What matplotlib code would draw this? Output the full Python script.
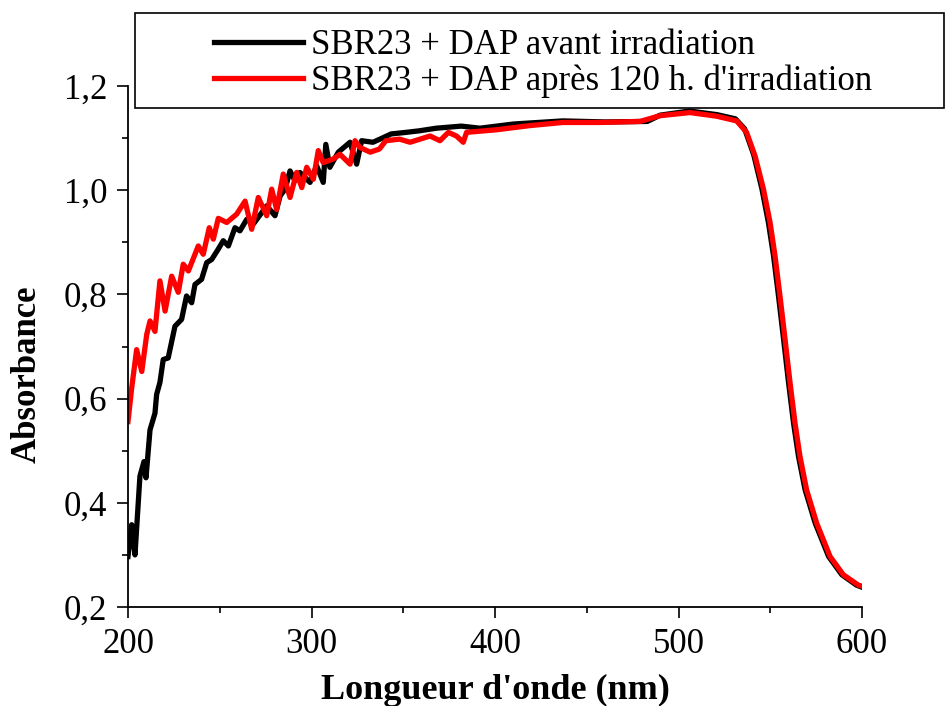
import matplotlib
matplotlib.use('Agg')
import matplotlib.pyplot as plt
from matplotlib.patches import Rectangle
from matplotlib.ticker import MultipleLocator, FuncFormatter

# Spectres UV-visible (longueur d'onde en nm, absorbance)
wl_avant = [200, 202, 203.8, 206.5, 208.7, 209.8, 212, 214.7, 215.6, 217.4, 219.2, 221.9,
            225.6, 229.2, 231.9, 234.7, 236.5, 240.1, 242.9, 245.6, 249.2, 251.9, 254.7,
            258.3, 261, 264.7, 268.3, 272.9, 275.6, 280.1, 282.9, 285.6, 288.3, 291,
            293.7, 299.2, 302.8, 306.4, 307.8, 310, 314.6, 321, 324.6, 327.3, 333.5,
            337.3, 343.4, 351.5, 358.8, 368, 381.6, 391.8, 410, 437, 460, 483, 490,
            506, 521, 531, 536, 541, 545.5, 549, 551.8, 554.5, 557.3, 560, 562.7,
            565.4, 569, 574.5, 581.8, 589, 597, 600]
abs_avant = [0.297, 0.358, 0.300, 0.451, 0.479, 0.448, 0.540, 0.572, 0.608, 0.631, 0.675, 0.678,
             0.739, 0.752, 0.797, 0.784, 0.819, 0.829, 0.861, 0.867, 0.887, 0.903, 0.893,
             0.928, 0.922, 0.944, 0.935, 0.957, 0.970, 0.951, 0.989, 1.002, 1.037, 1.018,
             1.034, 1.015, 1.047, 1.015, 1.088, 1.044, 1.073, 1.092, 1.050, 1.095, 1.092,
             1.098, 1.108, 1.111, 1.114, 1.119, 1.123, 1.119, 1.127, 1.133, 1.131, 1.132, 1.144,
             1.152, 1.145, 1.137, 1.118, 1.068, 1.002, 0.938, 0.874, 0.797, 0.713, 0.630, 0.553,
             0.489, 0.425, 0.361, 0.297, 0.262, 0.242, 0.238]

wl_apres = [200, 202, 204.7, 207.5, 210.2, 212, 214.7, 217.4, 220.2, 223.8, 227.4, 230.1,
            232.9, 238.3, 241, 244.3, 246.5, 249.2, 253.8, 259.2, 263.8, 267.4, 271,
            275.6, 278.3, 281, 284.6, 288.3, 291.9, 294.7, 297.4, 301, 303.7, 306.4,
            311.9, 315.5, 321, 323.7, 326.4, 332, 337, 340.5, 348, 353.7, 364.6, 370,
            374.6, 379, 382.7, 384.5, 400.9, 419, 437, 457, 479, 489.9, 506.3, 520.8,
            531.7, 537.1, 541.7, 546.3, 549.9, 552.6, 555.3, 558.1, 560.8, 563.5, 566.2,
            569.8, 575.3, 582.6, 589.8, 598, 600]
abs_apres = [0.556, 0.620, 0.694, 0.652, 0.723, 0.749, 0.729, 0.826, 0.768, 0.835, 0.804, 0.858,
             0.845, 0.893, 0.877, 0.928, 0.906, 0.946, 0.938, 0.954, 0.979, 0.925, 0.986,
             0.951, 1.002, 0.963, 1.031, 0.986, 1.034, 1.005, 1.044, 1.021, 1.076, 1.053,
             1.060, 1.069, 1.050, 1.095, 1.082, 1.073, 1.079, 1.095, 1.098, 1.092, 1.104, 1.095,
             1.111, 1.104, 1.092, 1.111, 1.116, 1.124, 1.130, 1.130, 1.132, 1.143, 1.149, 1.142,
             1.133, 1.111, 1.066, 1.002, 0.938, 0.874, 0.797, 0.713, 0.630, 0.553, 0.489,
             0.425, 0.361, 0.297, 0.262, 0.242, 0.240]

labels = ["SBR23 + DAP avant irradiation", "SBR23 + DAP après 120 h. d'irradiation"]

plt.rcParams['font.family'] = ['Liberation Serif', 'DejaVu Serif']

fig = plt.figure(figsize=(9.46, 7.06), dpi=100)
ax = fig.add_axes([128/946, 1 - 607/706, (862-128)/946, (607-86)/706])

l1, = ax.plot(wl_avant, abs_avant, color='black', lw=3.8, solid_joinstyle='round')
l2, = ax.plot(wl_apres, abs_apres, color='#ff0000', lw=3.8, solid_joinstyle='round')

ax.set_xlim(200, 600)
ax.set_ylim(0.2, 1.2)
ax.xaxis.set_major_locator(MultipleLocator(100))
ax.xaxis.set_minor_locator(MultipleLocator(50))
ax.yaxis.set_major_locator(MultipleLocator(0.2))
ax.yaxis.set_minor_locator(MultipleLocator(0.1))
ax.yaxis.set_major_formatter(FuncFormatter(lambda v, p: f"{v:.1f}".replace('.', ',')))

for s in ['top', 'right']:
    ax.spines[s].set_visible(False)
for s in ['left', 'bottom']:
    ax.spines[s].set_linewidth(1.3)

ax.tick_params(which='major', direction='out', length=8, width=1.2, labelsize=25, pad=7)
ax.tick_params(which='minor', direction='out', length=4, width=1.2)

ax.set_xlabel("Longueur d'onde (nm)", fontsize=26, fontweight='bold')
ax.set_ylabel("Absorbance", fontsize=25, fontweight='bold')
ax.xaxis.set_label_coords(0.5, -0.161)
ax.yaxis.set_label_coords(-0.138, 0.447)
ax.xaxis.label.set_va('center')
ax.yaxis.label.set_va('center')

# legende avec cadre dessine a part
fig.legend([l1, l2], labels, loc='upper left', bbox_to_anchor=(214/946, 1 - 29/706),
           frameon=False, fontsize=25, handlelength=2.56, handletextpad=0.23,
           labelspacing=0.08, borderpad=0, borderaxespad=0)
fig.add_artist(Rectangle((135/946, 1 - 108/706), (944-135)/946, (108-13)/706,
                         transform=fig.transFigure, fill=False, lw=1.2, ec='black'))

fig.savefig('out.png', dpi=100)
